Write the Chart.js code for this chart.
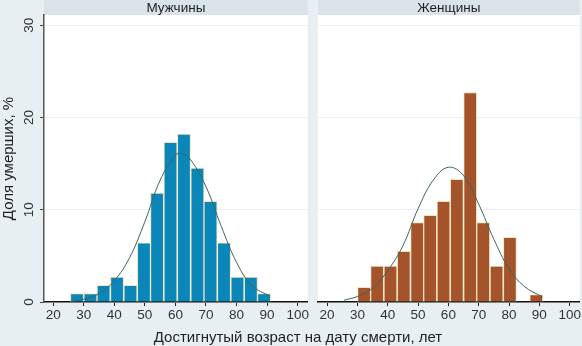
<!DOCTYPE html>
<html>
<head>
<meta charset="utf-8">
<script src="https://cdn.jsdelivr.net/npm/chart.js@4.4.1/dist/chart.umd.min.js"></script>
<style>
  html, body { margin: 0; padding: 0; background: #e8eff3; }
  #wrap { position: relative; width: 582px; height: 346px; overflow: hidden; font-family: "Liberation Sans", Arial, sans-serif; }
  canvas { position: absolute; top: 0; }
  #menCanvas { left: 0; }
  #womenCanvas { left: 310px; }
  #xTitle { position: absolute; left: 0; width: 596px; top: 328px; text-align: center; font-size: 15px; color: #222; }
</style>
</head>
<body>
<div id="wrap">
  <canvas id="menCanvas" width="310" height="346"></canvas>
  <canvas id="womenCanvas" width="272" height="346"></canvas>
  <div id="xTitle">Достигнутый возраст на дату смерти, лет</div>
</div>
<script>
// common histogram bins (age, years) — bin midpoints
const binCenters = [27.8, 32.2, 36.5, 40.9, 45.3, 49.7, 54.0, 58.4, 62.8, 67.2, 71.5, 75.9, 80.3, 84.7, 89.0];

// share of deaths, %
const menPct   = [0.9, 0.9, 1.8, 2.7, 1.8, 6.4, 11.8, 17.3, 18.2, 14.5, 10.9, 6.4, 2.7, 2.7, 0.9];
const womenPct = [0, 1.6, 3.9, 3.9, 5.5, 8.6, 9.4, 10.9, 13.3, 22.7, 8.6, 3.9, 7.0, 0, 0.8];

// normal density overlay
const menCurveAge = [25.6, 30, 35, 40, 45, 50, 55, 60, 62, 65, 70, 75, 80, 85, 91];
const menCurveVal = [0.05, 0.3, 0.9, 2.3, 4.8, 8.7, 13.2, 15.9, 16.1, 15.4, 12.5, 8.2, 4.3, 1.8, 0.6];
const womenCurveAge = [25.6, 30, 35, 40, 45, 50, 55, 60, 65, 70, 75, 80, 85, 91];
const womenCurveVal = [0.2, 0.6, 1.5, 3.4, 6.1, 10.1, 13.2, 14.6, 13.7, 10.6, 6.8, 3.6, 1.7, 0.55];

const xTicks = [20, 30, 40, 50, 60, 70, 80, 90, 100];
const yTicks = [0, 10, 20, 30];

const FONT = '"Liberation Sans", Arial, sans-serif';

const panelPlugin = {
  id: "panel",
  beforeDraw(chart, args, opts) {
    const { ctx, chartArea: a } = chart;
    ctx.save();
    ctx.fillStyle = "#ffffff";
    ctx.fillRect(a.left, a.top, a.right - a.left, a.bottom - a.top);
    ctx.fillStyle = "#d9e3ea";
    ctx.fillRect(a.left, 0, a.right - a.left, a.top);
    ctx.fillStyle = "#1e1e1e";
    ctx.font = "13.5px " + FONT;
    ctx.textAlign = "center";
    ctx.textBaseline = "middle";
    ctx.fillText(opts.title, (a.left + a.right) / 2, a.top / 2 + 0.5);
    ctx.restore();
  },
  afterDraw(chart, args, opts) {
    if (!opts.yLabels) return;
    const { ctx } = chart;
    const y = chart.scales.y;
    ctx.save();
    ctx.fillStyle = "#333";
    ctx.font = "13.5px " + FONT;
    ctx.textAlign = "center";
    ctx.textBaseline = "middle";
    y.ticks.forEach((t) => {
      ctx.save();
      ctx.translate(29, y.getPixelForValue(t.value));
      ctx.rotate(-Math.PI / 2);
      ctx.fillText(String(t.value), 0, 0);
      ctx.restore();
    });
    ctx.restore();
  }
};

function makePanel(canvasId, title, pct, curveAge, curveVal, color, isLeft) {
  new Chart(document.getElementById(canvasId), {
    type: "bar",
    data: {
      datasets: [
        {
          type: "line",
          data: curveAge.map((a, i) => ({ x: a, y: curveVal[i] })),
          borderColor: "#3c6664",
          borderWidth: 1,
          pointRadius: 0,
          tension: 0.4,
          order: 0
        },
        {
          type: "bar",
          data: binCenters.map((c, i) => ({ x: c, y: pct[i] })),
          backgroundColor: color,
          borderColor: "#efe6bf",
          borderWidth: 1,
          barPercentage: 1,
          categoryPercentage: 1,
          order: 1
        }
      ]
    },
    options: {
      responsive: false,
      animation: false,
      layout: { padding: { top: 15, right: 2, left: isLeft ? 0 : 8, bottom: 0 } },
      plugins: {
        legend: { display: false },
        tooltip: { enabled: false },
        panel: { title: title, yLabels: isLeft }
      },
      scales: {
        x: {
          type: "linear",
          offset: false,
          min: 17,
          max: 103.3,
          afterBuildTicks: (s) => { s.ticks = xTicks.map((v) => ({ value: v })); },
          afterFit: (s) => { s.height = 44; },
          ticks: { color: "#333", font: { size: 13.5, family: FONT }, padding: 1, maxRotation: 0 },
          grid: { offset: false, drawOnChartArea: false, tickLength: 4, tickColor: "#222" },
          border: { color: "#111", width: 1.5 }
        },
        y: {
          min: 0,
          max: 31.1,
          afterBuildTicks: (s) => { s.ticks = yTicks.map((v) => ({ value: v })); },
          afterFit: (s) => { s.width = isLeft ? 44 : 0; },
          ticks: { display: false },
          grid: { color: "#edf1f3", lineWidth: 1, drawTicks: isLeft, tickLength: 4, tickColor: "#444" },
          border: { display: isLeft, color: "#555", width: 1.5 },
          title: {
            display: isLeft,
            text: "Доля умерших, %",
            color: "#222",
            font: { size: 15, family: FONT },
            padding: { top: 0, bottom: 0 }
          }
        }
      }
    },
    plugins: [panelPlugin]
  });
}

makePanel("menCanvas", "Мужчины", menPct, menCurveAge, menCurveVal, "#0b86b8", true);
makePanel("womenCanvas", "Женщины", womenPct, womenCurveAge, womenCurveVal, "#a4532b", false);
</script>
</body>
</html>
